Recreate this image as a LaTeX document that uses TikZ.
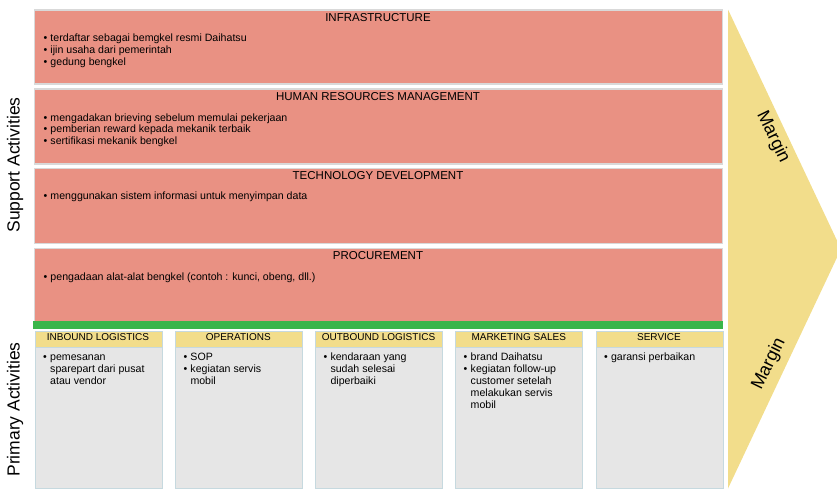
\documentclass[tikz,border=0pt]{standalone}
\usepackage{fontspec}
\setmainfont{Liberation Sans}
\definecolor{supportred}{HTML}{E99183}
\definecolor{supportedge}{HTML}{D9D9D9}
\definecolor{bargreen}{HTML}{3BB54A}
\definecolor{marginyellow}{HTML}{F2DD8B}
\definecolor{bodygray}{HTML}{E6E6E6}
\definecolor{bodyedge}{HTML}{C6D9DF}
% bullet line and continuation line
\newcommand\bl[1]{\makebox[7pt][l]{\textbullet}#1}
\newcommand\cl[1]{\hspace*{7pt}#1}
\begin{document}
\begin{tikzpicture}[x=1pt,y=-1pt,
  supportbox/.style={draw=supportedge,line width=1.5pt,fill=supportred,anchor=north west,
    minimum width=688pt,inner sep=0pt},
  supporttitle/.style={anchor=base,inner sep=0pt,font=\fontsize{11.5}{13}\selectfont},
  supportlist/.style={anchor=base west,inner sep=0pt,font=\fontsize{10.6}{11.7}\selectfont},
  primarybody/.style={draw=bodyedge,line width=1pt,fill=bodygray,anchor=north west,
    minimum width=127pt,minimum height=157pt,inner sep=0pt},
  primaryhead/.style={draw=bodyedge,line width=1pt,fill=marginyellow,anchor=north west,
    minimum width=127pt,minimum height=15.5pt,inner sep=0pt},
  primarytitle/.style={anchor=base,inner sep=0pt,font=\fontsize{10}{12}\selectfont},
  primarylist/.style={anchor=base west,inner sep=0pt,font=\fontsize{10.6}{12}\selectfont},
  sidelabel/.style={inner sep=0pt,font=\fontsize{17.5}{20}\selectfont},
  marginlabel/.style={inner sep=0pt,font=\fontsize{18}{20}\selectfont}]
\useasboundingbox (0,0) rectangle (837,499);

% margin chevron
\begin{scope}
\clip (0,0) rectangle (837,499);
\fill[marginyellow] (728,9.5) -- (841,249) -- (728,488.5) -- cycle;
\end{scope}
\node[marginlabel,rotate=-64] (marginTop) at (773,137) {Margin};
\node[marginlabel,rotate=64] (marginBottom) at (769,364) {Margin};

% support activities
\node[supportbox,minimum height=74pt] (infra) at (33.75,9) {};
\node[supportbox,minimum height=75pt] (hrm) at (33.75,88) {};
\node[supportbox,minimum height=75pt] (tech) at (33.75,167.5) {};
\node[supportbox,minimum height=75pt] (proc) at (33.75,247.5) {};

\node[supporttitle] (infraT) at (378,21) {INFRASTRUCTURE};
\node[supporttitle] (hrmT) at (378,100) {HUMAN RESOURCES MANAGEMENT};
\node[supporttitle] (techT) at (378,179.3) {TECHNOLOGY DEVELOPMENT};
\node[supporttitle] (procT) at (378,259) {PROCUREMENT};

\node[supportlist] (infraL) at (43.3,41.7) {\parbox[t]{400pt}{%
  \bl{terdaftar sebagai bemgkel resmi Daihatsu}\\
  \bl{ijin usaha dari pemerintah}\\
  \bl{gedung bengkel}}};
\node[supportlist] (hrmL) at (43.3,121) {\parbox[t]{400pt}{%
  \bl{mengadakan brieving sebelum memulai pekerjaan}\\
  \bl{pemberian reward kepada mekanik terbaik}\\
  \bl{sertifikasi mekanik bengkel}}};
\node[supportlist] (techL) at (43.3,199.5) {\parbox[t]{400pt}{%
  \bl{menggunakan sistem informasi untuk menyimpan data}}};
\node[supportlist] (procL) at (43.3,280) {\parbox[t]{400pt}{%
  \bl{pengadaan alat-alat bengkel (contoh : kunci, obeng, dll.)}}};

% divider between support and primary activities
\fill[bargreen] (33,321) rectangle (722.5,328.5);

% primary activities
\foreach \i/\name/\title in {0/inbound/INBOUND LOGISTICS,1/operations/OPERATIONS,
    2/outbound/OUTBOUND LOGISTICS,3/marketing/MARKETING SALES,4/service/SERVICE}{
  \node[primarybody] (\name) at ({34.5+140.25*\i},331) {};
  \node[primaryhead] (\name H) at ({34.5+140.25*\i},331) {};
  \node[primarytitle] (\name T) at ({98+140.25*\i},340.5) {\title};
}
\node[primarylist] (inboundL) at (43,360.7) {\parbox[t]{120pt}{%
  \bl{pemesanan}\\ \cl{sparepart dari pusat}\\ \cl{atau vendor}}};
\node[primarylist] (operationsL) at (183.3,360.7) {\parbox[t]{120pt}{%
  \bl{SOP}\\ \bl{kegiatan servis}\\ \cl{mobil}}};
\node[primarylist] (outboundL) at (323.3,360.7) {\parbox[t]{120pt}{%
  \bl{kendaraan yang}\\ \cl{sudah selesai}\\ \cl{diperbaiki}}};
\node[primarylist] (marketingL) at (463.5,360.7) {\parbox[t]{120pt}{%
  \bl{brand Daihatsu}\\ \bl{kegiatan follow-up}\\ \cl{customer setelah}\\
  \cl{melakukan servis}\\ \cl{mobil}}};
\node[primarylist] (serviceL) at (603.8,360.7) {\parbox[t]{120pt}{%
  \bl{garansi perbaikan}}};

% side labels
\node[sidelabel,rotate=90] (supportS) at (15,165) {Support Activities};
\node[sidelabel,rotate=90] (primaryS) at (15,409.5) {Primary Activities};
\end{tikzpicture}
\end{document}
